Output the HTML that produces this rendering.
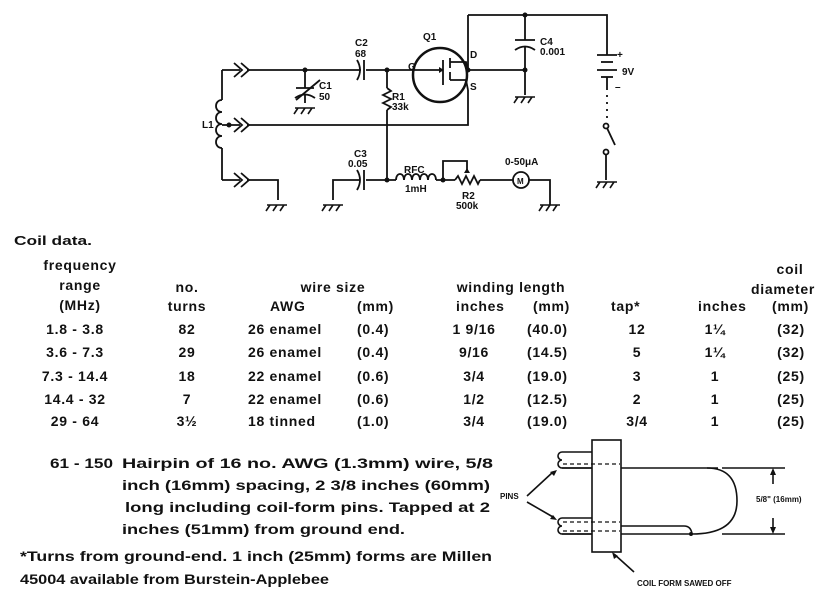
<!DOCTYPE html>
<html><head><style>
html,body{margin:0;padding:0;background:#fff}
svg{display:block}
text{font-family:"Liberation Sans",sans-serif;font-weight:bold;fill:#111}
.t{font-size:14px}
.tb text{letter-spacing:0.7px}
.s{font-size:10px}
.xs{font-size:8px}
</style></head><body>
<svg width="837" height="598" viewBox="0 0 837 598">
<g stroke="#111" stroke-width="1.8" fill="none">
<polyline points="468,15 607,15 607,55"/>
<line x1="468" y1="15" x2="468" y2="70"/>
<polyline points="247,70 361,70"/>
<polyline points="366,70 440,70"/>
<line x1="222" y1="70" x2="222" y2="100"/>
<line x1="222" y1="70" x2="240" y2="70"/>
<path d="M234,63 l8,7 l-8,7 M241,63 l8,7 l-8,7"/>
<path d="M222,100 c-8,0 -8,12 0,12 c-8,0 -8,12 0,12 c-8,0 -8,12 0,12 c-8,0 -8,12 0,12"/>
<line x1="222" y1="148" x2="222" y2="180"/>
<line x1="222" y1="180" x2="240" y2="180"/>
<path d="M234,173 l8,7 l-8,7 M241,173 l8,7 l-8,7"/>
<polyline points="247,180 278,180 278,200"/>
<line x1="222" y1="125" x2="240" y2="125"/>
<path d="M234,118 l8,7 l-8,7 M241,118 l8,7 l-8,7"/>
<polyline points="247,125 468,125 468,90"/>
<line x1="305" y1="70" x2="305" y2="88"/>
<line x1="296" y1="88" x2="314" y2="88"/>
<path d="M295,98 q10,-7 20,0"/>
<line x1="305" y1="95" x2="305" y2="103"/>
<line x1="296" y1="100" x2="320" y2="80"/>
<path d="M357,60 q6,10 0,20"/>
<line x1="364" y1="60" x2="364" y2="80"/>
<line x1="387" y1="70" x2="387" y2="88"/>
<path d="M387,88 l4,3 l-8,4 l8,4 l-8,4 l8,4 l-4,3"/>
<line x1="387" y1="110" x2="387" y2="180"/>
<circle cx="440" cy="75" r="27" stroke-width="2.5"/>
<line x1="443" y1="60" x2="443" y2="85"/>
<line x1="450" y1="58" x2="450" y2="68"/>
<line x1="450" y1="72" x2="450" y2="80"/>
<polyline points="450,62 466,62 468,70"/>
<polyline points="450,80 466,80 468,90"/>
<line x1="468" y1="70" x2="525" y2="70"/>
<line x1="525" y1="15" x2="525" y2="40"/>
<line x1="515" y1="40" x2="535" y2="40"/>
<path d="M515,50 q10,-7 20,0"/>
<line x1="525" y1="46" x2="525" y2="95"/>
<line x1="597" y1="55" x2="617" y2="55"/>
<line x1="601" y1="62" x2="613" y2="62"/>
<line x1="597" y1="70" x2="617" y2="70"/>
<line x1="601" y1="77" x2="613" y2="77"/>
<line x1="607" y1="77" x2="607" y2="90"/>
<line x1="607" y1="95" x2="607" y2="120" stroke-dasharray="2,5"/>
<circle cx="606" cy="126" r="2.5"/>
<line x1="607" y1="128" x2="615" y2="145"/>
<circle cx="606" cy="152" r="2.5"/>
<line x1="606" y1="155" x2="606" y2="180"/>
<polyline points="333,200 333,180 360,180"/>
<path d="M357,170 q6,10 0,20"/>
<line x1="364" y1="170" x2="364" y2="190"/>
<line x1="366" y1="180" x2="396" y2="180"/>
<path d="M396,180 c0,-8 8,-8 8,0 c0,-8 8,-8 8,0 c0,-8 8,-8 8,0 c0,-8 8,-8 8,0 c0,-8 8,-8 8,0"/>
<line x1="436" y1="180" x2="455" y2="180"/>
<polyline points="443,180 443,161 467,161 467,172"/>
<path d="M455,180 l3,-4 l4,8 l4,-8 l4,8 l4,-8 l4,8 l2,-4"/>
<line x1="480" y1="180" x2="513" y2="180"/>
<circle cx="521" cy="180" r="8"/>
<polyline points="529,180 550,180 550,205"/>
</g>
<g fill="#111">
<circle cx="305" cy="70" r="2.5"/><circle cx="387" cy="70" r="2.5"/><circle cx="468" cy="70" r="2.5"/>
<circle cx="525" cy="70" r="2.5"/><circle cx="525" cy="15" r="2.5"/><circle cx="387" cy="180" r="2.5"/>
<circle cx="443" cy="180" r="2.5"/><circle cx="229" cy="125" r="2.5"/>
<path d="M439,67 l5,3 l-5,3z"/><path d="M467,168 l3,5 l-6,0z"/>
</g>
<g stroke="#111" stroke-width="1.6" fill="none">
<path d="M267,205 h20 M270,205 l-4,6 M277,205 l-4,6 M284,205 l-4,6"/>
<path d="M295,108 h20 M298,108 l-4,6 M305,108 l-4,6 M312,108 l-4,6"/>
<path d="M323,205 h20 M326,205 l-4,6 M333,205 l-4,6 M340,205 l-4,6"/>
<path d="M515,97 h20 M518,97 l-4,6 M525,97 l-4,6 M532,97 l-4,6"/>
<path d="M540,205 h20 M543,205 l-4,6 M550,205 l-4,6 M557,205 l-4,6"/>
<path d="M597,182 h20 M600,182 l-4,6 M607,182 l-4,6 M614,182 l-4,6"/>
</g>
<g class="s">
<text x="355" y="46">C2</text><text x="355" y="57">68</text>
<text x="319" y="89">C1</text><text x="319" y="100">50</text>
<text x="392" y="100">R1</text><text x="392" y="110">33k</text>
<text x="408" y="70">G</text><text x="470" y="58">D</text><text x="470" y="90">S</text>
<text x="423" y="40">Q1</text>
<text x="540" y="45">C4</text><text x="540" y="55">0.001</text>
<text x="617" y="58">+</text><text x="622" y="75">9V</text><text x="615" y="90">–</text>
<text x="202" y="128">L1</text>
<text x="354" y="157">C3</text><text x="348" y="167">0.05</text>
<text x="404" y="173">RFC</text><text x="405" y="192">1mH</text>
<text x="462" y="199">R2</text><text x="456" y="209">500k</text>
<text x="505" y="165">0-50μA</text><text x="517" y="184" class="xs">M</text>
</g>
<g class="t tb">
<text x="14" y="245" style="font-size:13px;letter-spacing:0" textLength="78" lengthAdjust="spacingAndGlyphs">Coil data.</text>
<text x="80" y="270" text-anchor="middle">frequency</text>
<text x="80" y="290" text-anchor="middle">range</text>
<text x="80" y="310" text-anchor="middle">(MHz)</text>
<text x="187" y="292" text-anchor="middle">no.</text>
<text x="187" y="311" text-anchor="middle">turns</text>
<text x="333" y="292" text-anchor="middle">wire size</text>
<text x="270" y="311">AWG</text><text x="357" y="311">(mm)</text>
<text x="511" y="292" text-anchor="middle">winding length</text>
<text x="456" y="311">inches</text><text x="533" y="311">(mm)</text>
<text x="611" y="311">tap*</text>
<text x="790" y="274" text-anchor="middle">coil</text>
<text x="783" y="294" text-anchor="middle">diameter</text>
<text x="698" y="311">inches</text><text x="772" y="311">(mm)</text>
<text x="75" y="334" text-anchor="middle">1.8 - 3.8</text>
<text x="75" y="357" text-anchor="middle">3.6 - 7.3</text>
<text x="75" y="381" text-anchor="middle">7.3 - 14.4</text>
<text x="75" y="404" text-anchor="middle">14.4 - 32</text>
<text x="75" y="426" text-anchor="middle">29 - 64</text>
<text x="187" y="334" text-anchor="middle">82</text>
<text x="187" y="357" text-anchor="middle">29</text>
<text x="187" y="381" text-anchor="middle">18</text>
<text x="187" y="404" text-anchor="middle">7</text>
<text x="187" y="426" text-anchor="middle">3½</text>
<text x="248" y="334">26 enamel</text><text x="248" y="357">26 enamel</text><text x="248" y="381">22 enamel</text><text x="248" y="404">22 enamel</text><text x="248" y="426">18 tinned</text>
<text x="357" y="334">(0.4)</text><text x="357" y="357">(0.4)</text><text x="357" y="381">(0.6)</text><text x="357" y="404">(0.6)</text><text x="357" y="426">(1.0)</text>
<text x="474" y="334" text-anchor="middle">1 9/16</text><text x="474" y="357" text-anchor="middle">9/16</text><text x="474" y="381" text-anchor="middle">3/4</text><text x="474" y="404" text-anchor="middle">1/2</text><text x="474" y="426" text-anchor="middle">3/4</text>
<text x="527" y="334">(40.0)</text><text x="527" y="357">(14.5)</text><text x="527" y="381">(19.0)</text><text x="527" y="404">(12.5)</text><text x="527" y="426">(19.0)</text>
<text x="637" y="334" text-anchor="middle">12</text><text x="637" y="357" text-anchor="middle">5</text><text x="637" y="381" text-anchor="middle">3</text><text x="637" y="404" text-anchor="middle">2</text><text x="637" y="426" text-anchor="middle">3/4</text>
<text x="715" y="334" text-anchor="middle">1¼</text><text x="715" y="357" text-anchor="middle">1¼</text><text x="715" y="381" text-anchor="middle">1</text><text x="715" y="404" text-anchor="middle">1</text><text x="715" y="426" text-anchor="middle">1</text>
<text x="791" y="334" text-anchor="middle">(32)</text><text x="791" y="357" text-anchor="middle">(32)</text><text x="791" y="381" text-anchor="middle">(25)</text><text x="791" y="404" text-anchor="middle">(25)</text><text x="791" y="426" text-anchor="middle">(25)</text>
</g>
<g class="t">
<text x="50" y="468" textLength="63" lengthAdjust="spacingAndGlyphs">61 - 150</text>
<text x="122" y="468" textLength="371" lengthAdjust="spacingAndGlyphs">Hairpin of 16 no. AWG (1.3mm) wire, 5/8</text>
<text x="122" y="490" textLength="368" lengthAdjust="spacingAndGlyphs">inch (16mm) spacing, 2 3/8 inches (60mm)</text>
<text x="125" y="512" textLength="365" lengthAdjust="spacingAndGlyphs">long including coil-form pins. Tapped at 2</text>
<text x="122" y="534" textLength="283" lengthAdjust="spacingAndGlyphs">inches (51mm) from ground end.</text>
<text x="20" y="561" textLength="472" lengthAdjust="spacingAndGlyphs">*Turns from ground-end. 1 inch (25mm) forms are Millen</text>
<text x="20" y="584" textLength="309" lengthAdjust="spacingAndGlyphs">45004 available from Burstein-Applebee</text>
</g>
<g stroke="#111" stroke-width="1.6" fill="none">
<rect x="592" y="440" width="29" height="112"/>
<path d="M592,452 h-30 a4,4 0 0 0 0,8 a4,4 0 0 0 0,8 h30"/>
<path d="M592,518 h-30 a4,4 0 0 0 0,8 a4,4 0 0 0 0,8 h30"/>
<line x1="562" y1="468" x2="592" y2="468"/>
<line x1="562" y1="534" x2="592" y2="534"/>
<line x1="621" y1="468" x2="718" y2="468"/>
<path d="M621,526 h63 q7,0 8,8"/>
<path d="M621,534 h71 q45,0 45,-33 q0,-33 -30,-33"/>
<g stroke-dasharray="4,3" stroke-width="1.2">
<line x1="563" y1="464" x2="620" y2="464"/><line x1="563" y1="522" x2="620" y2="522"/><line x1="563" y1="531" x2="620" y2="531"/>
</g>
<line x1="722" y1="468" x2="785" y2="468"/>
<line x1="722" y1="534" x2="785" y2="534"/>
<line x1="773" y1="470" x2="773" y2="484"/><line x1="773" y1="518" x2="773" y2="532"/>
<line x1="527" y1="496" x2="553" y2="472"/>
<line x1="527" y1="502" x2="553" y2="517"/>
<line x1="634" y1="572" x2="614" y2="554"/>
</g>
<g fill="#111">
<path d="M773,468 l-3,7 h6z"/><path d="M773,534 l-3,-7 h6z"/>
<path d="M557,470 l-7,2 l4,4z"/><path d="M557,520 l-7,-1 l3,-4z"/><path d="M612,552 l2,7 l4,-3z"/>
<circle cx="691" cy="534" r="2"/>
</g>
<g class="xs">
<text x="500" y="499">PINS</text>
<text x="756" y="502">5/8" (16mm)</text>
<text x="637" y="586">COIL  FORM SAWED OFF</text>
</g>
</svg>
</body></html>
